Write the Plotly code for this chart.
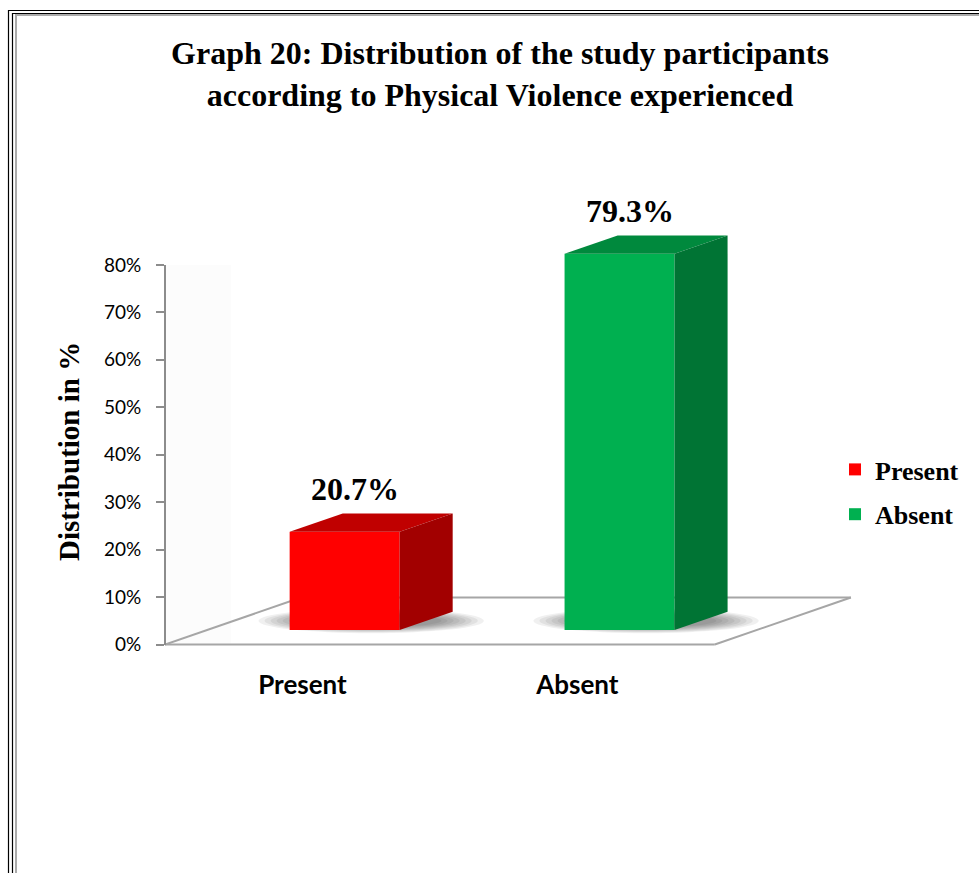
import plotly.graph_objects as go

# ---- data -------------------------------------------------------------
categories = ["Present", "Absent"]
values = [20.7, 79.3]
value_labels = ["20.7%", "79.3%"]
y_tick_values = [0, 10, 20, 30, 40, 50, 60, 70, 80]
y_tick_labels = ["0%", "10%", "20%", "30%", "40%", "50%", "60%", "70%", "80%"]

# ---- styling ----------------------------------------------------------
front_colors = ["#FF0000", "#00B050"]
top_colors = ["#C00000", "#00893D"]
side_colors = ["#A20000", "#007434"]
axis_grey = "#8C8C8C"
floor_grey = "#A6A6A6"
SERIF = "Liberation Serif"
SANS = "Lato"

W, H = 979, 873
ML, MR, MT, MB = 165, 113, 208, 219
PW, PH = W - ML - MR, H - MT - MB
X_RANGE = [-0.5, 2.05]
Y_RANGE = [-2, 92]

# oblique depth of the floor (category units, percent units)
DX, DY = 0.495, 9.9
# depth slice occupied by each bar, and its width
F0, F1 = 0.31, 0.70
BAR_W = 0.4


def paper_x(px):
    return (px - ML) / PW


def paper_y(py):
    return (H - MB - py) / PH


fig = go.Figure()

shapes = []

# faint side wall
shapes.append(dict(type="rect", xref="x", yref="y", x0=-0.5, x1=-0.26, y0=0, y1=80,
                   fillcolor="#FCFCFC", line_width=0, layer="below"))

# floor outline
n = len(categories)
fl, fr = -0.5, n - 0.5
floor = [((fl, 0), (fr, 0)), ((fl + DX, DY), (fr + DX, DY)),
         ((fl, 0), (fl + DX, DY)), ((fr, 0), (fr + DX, DY))]
for (x0, y0), (x1, y1) in floor:
    shapes.append(dict(type="line", xref="x", yref="y", x0=x0, y0=y0, x1=x1, y1=y1,
                       line=dict(color=floor_grey, width=2), layer="below"))

# soft shadows on the floor under each bar
mid = (F0 + F1) / 2
for i in range(n):
    cx, cy = i + mid * DX, mid * DY
    for k in range(8):
        rx = 0.41 - k * 0.022
        ry = 2.6 - k * 0.17
        shapes.append(dict(type="circle", xref="x", yref="y",
                           x0=cx - rx, x1=cx + rx, y0=cy - ry, y1=cy + ry,
                           fillcolor="rgba(0,0,0,0.06)", line_width=0, layer="below"))

# front faces of the bars
for i, (cat, v) in enumerate(zip(categories, values)):
    fig.add_trace(go.Bar(
        x=[i + F0 * DX], y=[v], base=[F0 * DY], width=BAR_W,
        marker=dict(color=front_colors[i], line_width=0),
        name=f"<b>{cat}</b>", legendgroup=cat, hoverinfo="skip",
    ))

# top and side faces
for i, v in enumerate(values):
    xl, xr = i - BAR_W / 2, i + BAR_W / 2
    top_x = [xl + F0 * DX, xr + F0 * DX, xr + F1 * DX, xl + F1 * DX, xl + F0 * DX]
    top_y = [F0 * DY + v, F0 * DY + v, F1 * DY + v, F1 * DY + v, F0 * DY + v]
    fig.add_trace(go.Scatter(x=top_x, y=top_y, fill="toself", mode="lines",
                             fillcolor=top_colors[i], line=dict(width=0, color=top_colors[i]),
                             showlegend=False, hoverinfo="skip"))
    side_x = [xr + F0 * DX, xr + F0 * DX, xr + F1 * DX, xr + F1 * DX, xr + F0 * DX]
    side_y = [F0 * DY, F0 * DY + v, F1 * DY + v, F1 * DY, F0 * DY]
    fig.add_trace(go.Scatter(x=side_x, y=side_y, fill="toself", mode="lines",
                             fillcolor=side_colors[i], line=dict(width=0, color=side_colors[i]),
                             showlegend=False, hoverinfo="skip"))

# invisible trace that carries the percentage axis
fig.add_trace(go.Scatter(x=[None], y=[None], yaxis="y2", showlegend=False, hoverinfo="skip"))

annotations = []
for i, (v, lab) in enumerate(zip(values, value_labels)):
    annotations.append(dict(x=i + 0.19, y=v + 12.0, xref="x", yref="y", text=f"<b>{lab}</b>",
                            showarrow=False, font=dict(family=SERIF, size=32, color="black")))

annotations.append(dict(x=paper_x(69), y=paper_y(452), xref="paper", yref="paper",
                        xanchor="center", yanchor="middle",
                        text="<b>Distribution in %</b>", textangle=-90, showarrow=False,
                        font=dict(family=SERIF, size=29, color="black")))

# page frame
def vline(px, py0, color, width):
    return dict(type="line", xref="paper", yref="paper", x0=paper_x(px), x1=paper_x(px),
                y0=paper_y(py0), y1=paper_y(H + 5), line=dict(color=color, width=width))


def hline(py, px0, color, width):
    return dict(type="line", xref="paper", yref="paper", x0=paper_x(px0), x1=paper_x(W + 5),
                y0=paper_y(py), y1=paper_y(py), line=dict(color=color, width=width))


shapes += [vline(8.5, 10, "black", 1.2), hline(10.5, 8, "black", 1.2),
           vline(12.5, 13, "black", 1.2), hline(13.5, 12, "black", 1.2),
           vline(16, 15, "#ABABAB", 2), hline(15, 15, "#ABABAB", 2)]

y0p = (0 - Y_RANGE[0]) / (Y_RANGE[1] - Y_RANGE[0])
y1p = (80 - Y_RANGE[0]) / (Y_RANGE[1] - Y_RANGE[0])

fig.update_layout(
    width=W, height=H,
    margin=dict(l=ML, r=MR, t=MT, b=MB),
    paper_bgcolor="white", plot_bgcolor="rgba(0,0,0,0)",
    barmode="overlay",
    title=dict(text="<b>Graph 20: Distribution of the study participants<br>according to Physical Violence experienced</b>",
               x=500 / W, xanchor="center", y=1 - 64 / H, yanchor="middle", yref="container",
               font=dict(family=SERIF, size=32, color="black")),
    xaxis=dict(range=X_RANGE, tickvals=list(range(n)), ticktext=[f"<b>{c}</b>" for c in categories],
               showgrid=False, zeroline=False, showline=False, ticks="",
               tickfont=dict(family=SANS, size=26, color="black"), ticklabelstandoff=13),
    yaxis=dict(range=Y_RANGE, showgrid=False, zeroline=False, showline=False,
               showticklabels=False, ticks=""),
    yaxis2=dict(range=[0, 80], domain=[y0p, y1p], anchor="free", position=0,
                tickvals=y_tick_values, ticktext=y_tick_labels,
                showgrid=False, zeroline=False, showline=True, linecolor=axis_grey, linewidth=2,
                ticks="outside", ticklen=8, tickwidth=2, tickcolor=axis_grey,
                tickfont=dict(family=SANS, size=19, color="black"), ticklabelstandoff=11),
    legend=dict(x=paper_x(835), y=paper_y(446), xanchor="left", yanchor="top",
                font=dict(family=SERIF, size=26, color="black"), itemwidth=30,
                bgcolor="rgba(0,0,0,0)", tracegroupgap=8),
    shapes=shapes,
    annotations=annotations,
    showlegend=True,
)

fig.write_html("out.html")
